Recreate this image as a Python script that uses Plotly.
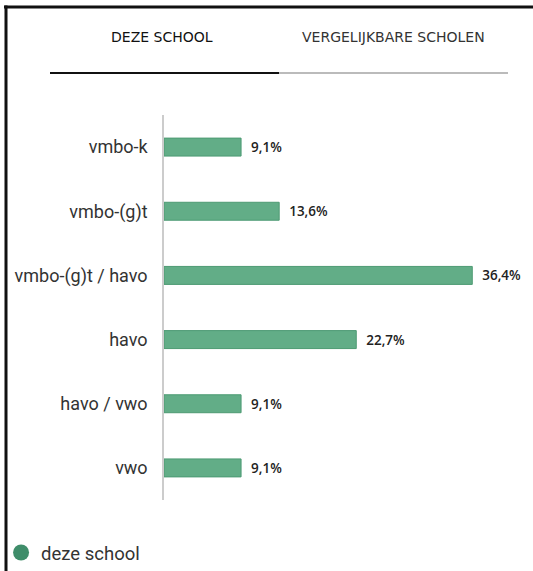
import plotly.graph_objects as go

categories = ["vmbo-k", "vmbo-(g)t", "vmbo-(g)t / havo", "havo", "havo / vwo", "vwo"]
values = [9.1, 13.6, 36.4, 22.7, 9.1, 9.1]
labels = ["9,1%", "13,6%", "36,4%", "22,7%", "9,1%", "9,1%"]
series_name = "deze school"
tab_labels = ["DEZE SCHOOL", "VERGELIJKBARE SCHOLEN"]

W, H = 533, 571
L, R, T, B = 164, 26, 115, 71
pw, ph = W - L - R, H - T - B


def px_x(x):
    return (x - L) / pw


def px_y(y):
    return (H - B - y) / ph


fig = go.Figure()
fig.add_trace(go.Bar(
    y=categories, x=values, orientation="h",
    text=labels, texttemplate="  %{text}", textposition="outside",
    textfont=dict(family="Open Sans", size=13.5, color="#222222", weight=600),
    marker=dict(color="#62ad87", line=dict(color="#4d9a73", width=1)),
    width=0.28, showlegend=False, cliponaxis=False,
))
fig.add_trace(go.Scatter(
    x=[None], y=[None], mode="markers", name=series_name,
    marker=dict(symbol="circle", size=16, color="#3f8d6a"),
))

shapes = [
    dict(type="line", xref="paper", yref="paper", x0=px_x(4), x1=px_x(W),
         y0=px_y(7), y1=px_y(7), line=dict(color="#111111", width=3)),
    dict(type="line", xref="paper", yref="paper", x0=px_x(6), x1=px_x(6),
         y0=px_y(5.5), y1=px_y(H), line=dict(color="#111111", width=3)),
    dict(type="line", xref="paper", yref="paper", x0=px_x(50), x1=px_x(279),
         y0=px_y(73), y1=px_y(73), line=dict(color="#111111", width=2)),
    dict(type="line", xref="paper", yref="paper", x0=px_x(279), x1=px_x(508),
         y0=px_y(73), y1=px_y(73), line=dict(color="#bbbbbb", width=2)),
]

annotations = [
    dict(text=tab_labels[0], xref="paper", yref="paper", x=px_x(162), y=px_y(37),
         showarrow=False, xanchor="center", yanchor="middle",
         font=dict(family="DejaVu Sans", size=14, color="#111111")),
    dict(text=tab_labels[1], xref="paper", yref="paper", x=px_x(393), y=px_y(37),
         showarrow=False, xanchor="center", yanchor="middle",
         font=dict(family="DejaVu Sans", size=14, color="#333333")),
]

fig.update_layout(
    width=W, height=H,
    margin=dict(l=L, r=R, t=T, b=B, autoexpand=False),
    paper_bgcolor="white", plot_bgcolor="white",
    shapes=shapes, annotations=annotations,
    xaxis=dict(range=[0, 40.5], visible=False, fixedrange=True),
    yaxis=dict(categoryorder="array", categoryarray=categories[::-1],
               showline=True, linecolor="#cccccc", linewidth=1.5,
               showgrid=False, ticks="", ticklabelstandoff=11, fixedrange=True,
               tickfont=dict(family="Roboto", size=18, color="#333333")),
    showlegend=True,
    legend=dict(xref="container", yref="container", x=0.002, y=(H - 553) / H,
                xanchor="left", yanchor="middle", itemwidth=30,
                font=dict(family="Roboto", size=18.5, color="#333333"),
                bgcolor="rgba(0,0,0,0)"),
    bargap=0.72,
)

fig.write_html("out.html", config={"displayModeBar": False},
               post_script="document.body.style.margin='0';document.body.style.overflow='hidden';document.documentElement.style.overflow='hidden';")
